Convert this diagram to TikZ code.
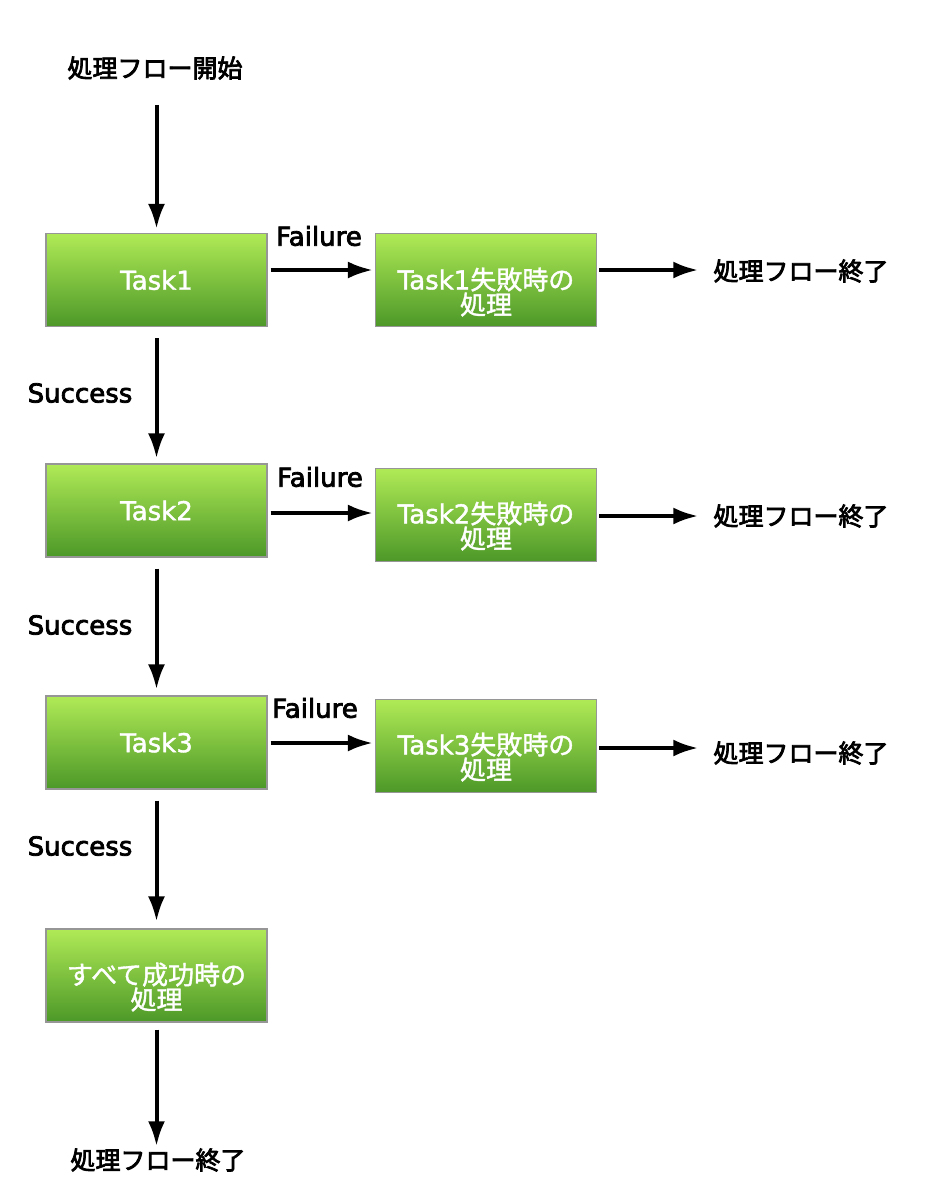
\documentclass[tikz,border=0pt]{standalone}
\usepackage{fontspec}
\setmainfont{DejaVu Sans}[FakeBold=1.5]
\newfontfamily\latb{DejaVu Sans}[FakeBold=3]
\newfontfamily\cjk{Noto Sans CJK JP}[FakeBold=1.5]
\newfontfamily\cjkb{Noto Sans CJK JP}[FakeBold=3]
\usetikzlibrary{arrows.meta,calc}
\definecolor{gtop}{RGB}{176,234,86}
\definecolor{gbot}{RGB}{76,152,40}
\definecolor{gborder}{RGB}{150,150,150}
\tikzset{
  x=1pt,y=-1pt,
  taskbox/.style={draw=gborder,line width=1.2pt,top color=gtop,bottom color=gbot,
    minimum width=221pt,minimum height=93pt,inner sep=0pt,text=white,
    font=\fontsize{26}{30}\selectfont},
  boxtext/.style={text=white,align=center,inner sep=0pt,font=\fontsize{26}{27}\selectfont},
  lbl/.style={inner sep=0pt,font=\latb\fontsize{26}{30}\selectfont},
  jlbl/.style={inner sep=0pt,font=\cjkb\fontsize{25}{30}\selectfont},
  arr/.style={line width=4pt,-{Latex[length=25pt,width=17pt]}},
}
\begin{document}
\begin{tikzpicture}
\useasboundingbox (0,0) rectangle (945,1200);
\node[jlbl] (start) at (155,68) {処理フロー開始};
\node[taskbox] (t1) at (156.5,280) {Task1};
\node[taskbox] (t2) at (156.5,510.5) {Task2};
\node[taskbox] (t3) at (156.5,742.5) {Task3};
\node[taskbox] (ok) at (156.5,975.5) {};
\node[boxtext] (okt) at (156.5,987) {{\cjk すべて成功時の}\\[-2pt]{\cjk 処理}};
\node[taskbox] (f1) at (486,280) {};
\node[boxtext] (f1t) at (486,292) {Task1{\cjk 失敗時の}\\[-2pt]{\cjk 処理}};
\node[taskbox] (f2) at (486,515) {};
\node[boxtext] (f2t) at (486,526) {Task2{\cjk 失敗時の}\\[-2pt]{\cjk 処理}};
\node[taskbox] (f3) at (486,746) {};
\node[boxtext] (f3t) at (486,757) {Task3{\cjk 失敗時の}\\[-2pt]{\cjk 処理}};
\node[jlbl] (e1) at (801,271) {処理フロー終了};
\node[jlbl] (e2) at (801,516) {処理フロー終了};
\node[jlbl] (e3) at (801,753) {処理フロー終了};
\node[jlbl] (e4) at (158,1160) {処理フロー終了};
\node[lbl] (fl1) at (319,236) {Failure};
\node[lbl] (fl2) at (320,477) {Failure};
\node[lbl] (fl3) at (315,708) {Failure};
\node[lbl] (s1) at (80,393) {Success};
\node[lbl] (s2) at (80,625) {Success};
\node[lbl] (s3) at (80,846) {Success};
% vertical arrows
\draw[arr] ([yshift=-25pt]start.south -| t1.north) -- ([yshift=4pt]t1.north);
\draw[arr] ([yshift=-11pt]t1.south) -- ([yshift=5pt]t2.north);
\draw[arr] ([yshift=-11pt]t2.south) -- ([yshift=6pt]t3.north);
\draw[arr] ([yshift=-11pt]t3.south) -- ([yshift=7pt]ok.north);
\draw[arr] ([yshift=-7pt]ok.south) -- ([yshift=2pt]e4.north -| ok.south);
% horizontal arrows
\draw[arr] ([xshift=3pt,yshift=10pt]t1.east) -- ([xshift=-2pt,yshift=10pt]f1.west);
\draw[arr] ([xshift=3pt,yshift=-2.5pt]t2.east) -- ([xshift=-2pt,yshift=2pt]f2.west);
\draw[arr] ([xshift=3pt,yshift=-0.5pt]t3.east) -- ([xshift=-2pt,yshift=3pt]f3.west);
\coordinate (a1) at ([xshift=2pt,yshift=10pt]f1.east);
\coordinate (a2) at ([xshift=2pt,yshift=-1pt]f2.east);
\coordinate (a3) at ([xshift=2pt,yshift=-2pt]f3.east);
\draw[arr] (a1) -- ($(a1 -| e1.west)+(-15,0)$);
\draw[arr] (a2) -- ($(a2 -| e2.west)+(-15,0)$);
\draw[arr] (a3) -- ($(a3 -| e3.west)+(-15,0)$);
\end{tikzpicture}
\end{document}
